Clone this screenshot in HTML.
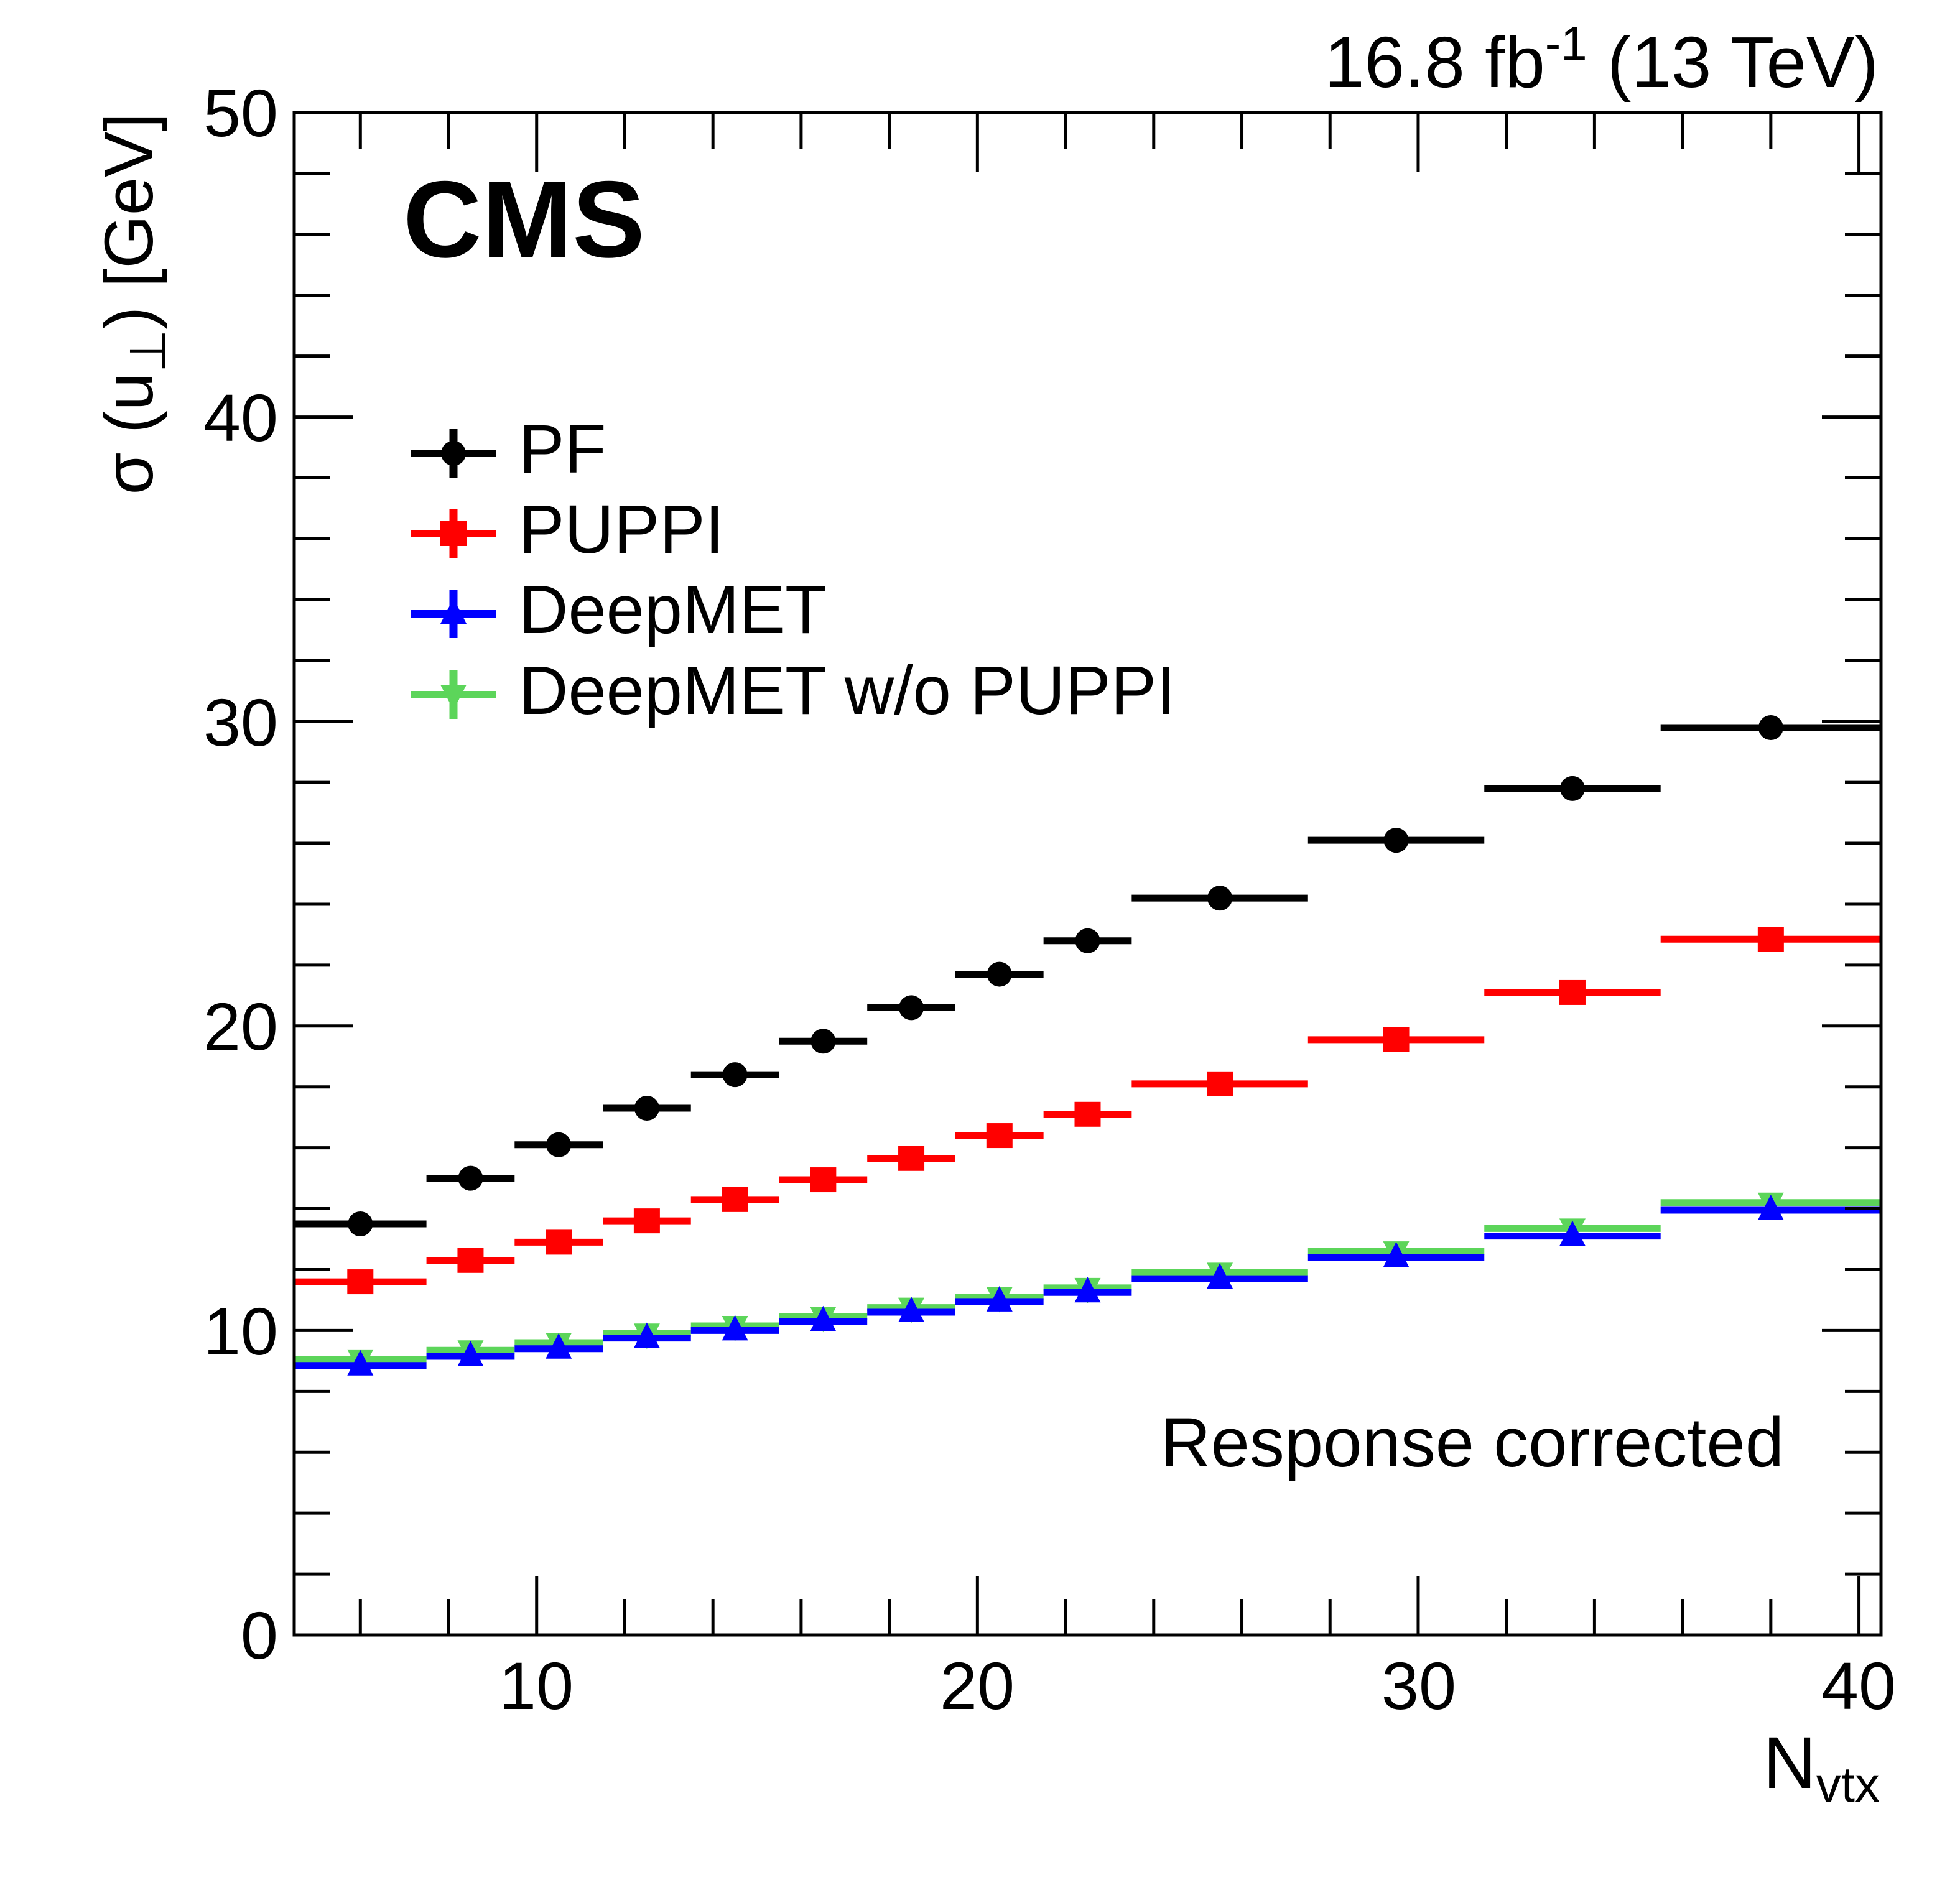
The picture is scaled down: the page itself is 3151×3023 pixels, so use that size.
<!DOCTYPE html>
<html><head><meta charset="utf-8"><style>
html,body{margin:0;padding:0;background:#fff;}
svg{display:block;}
text{font-family:"Liberation Sans",sans-serif;}
</style></head><body>
<svg width="3151" height="3023" viewBox="0 0 3151 3023" xmlns="http://www.w3.org/2000/svg">
<rect width="3151" height="3023" fill="#fff"/>
<g id="plot"></g>
<rect x="473" y="181" width="2551" height="2448" fill="none" stroke="#000" stroke-width="5"/>
<g id="ticks" stroke="#000" stroke-width="5"></g>
<g font-size="108" fill="#000">
<text x="862" y="2748" text-anchor="middle">10</text>
<text x="1571" y="2748" text-anchor="middle">20</text>
<text x="2281" y="2748" text-anchor="middle">30</text>
<text x="2988" y="2748" text-anchor="middle">40</text>
<text x="447" y="2667" text-anchor="end">0</text>
<text x="447" y="2178" text-anchor="end">10</text>
<text x="447" y="1688" text-anchor="end">20</text>
<text x="447" y="1199" text-anchor="end">30</text>
<text x="447" y="709" text-anchor="end">40</text>
<text x="447" y="219" text-anchor="end">50</text>
</g>
<text x="3022" y="2875" font-size="118" text-anchor="end">N<tspan font-size="80" dy="22">vtx</tspan></text>
<text transform="translate(245,181) rotate(-90)" font-size="110" text-anchor="end">σ (u<tspan font-size="80" dy="20">⊥</tspan><tspan dy="-20">) [GeV]</tspan></text>
<text x="3020" y="140" font-size="116" text-anchor="end">16.8 fb<tspan font-size="76" dy="-44">-1</tspan><tspan dy="44"> (13 TeV)</tspan></text>
<text x="648" y="413" font-size="175" font-weight="bold">CMS</text>
<text x="2868" y="2358" font-size="112" text-anchor="end">Response corrected</text>
<g font-size="110" fill="#000">
<text x="834" y="760">PF</text>
<text x="834" y="889">PUPPI</text>
<text x="834" y="1018">DeepMET</text>
<text x="834" y="1148">DeepMET w/o PUPPI</text>
</g>
<g id="legend"></g>
<script>
(function(){
var NS="http://www.w3.org/2000/svg";
function X(v){return 473+(v-4.5)*2551/36;}
function Y(v){return 2629-v*2448/50;}
function el(p,t,a){var e=document.createElementNS(NS,t);for(var k in a)e.setAttribute(k,a[k]);p.appendChild(e);return e;}
var tk=document.getElementById('ticks');
for(var v=6;v<=40;v+=2){var x=X(v);var L=(v%10==0)?95:58;
 el(tk,'line',{x1:x,y1:2629,x2:x,y2:2629-L});el(tk,'line',{x1:x,y1:181,x2:x,y2:181+L});}
for(var v=2;v<=48;v+=2){var y=Y(v);var L=(v%10==0)?95:58;
 el(tk,'line',{x1:473,y1:y,x2:473+L,y2:y});el(tk,'line',{x1:3024,y1:y,x2:3024-L,y2:y});}
var edges=[4.5,7.5,9.5,11.5,13.5,15.5,17.5,19.5,21.5,23.5,27.5,31.5,35.5,40.5];
var S=[
 {c:"#000",m:"c",v:[13.5,15.0,16.1,17.3,18.4,19.5,20.6,21.7,22.8,24.2,26.1,27.8,29.8]},
 {c:"#ff0000",m:"s",v:[11.6,12.3,12.9,13.6,14.3,14.95,15.65,16.4,17.1,18.1,19.55,21.1,22.85]},
 {c:"#5cd55a",m:"d",v:[9.05,9.35,9.6,9.9,10.15,10.45,10.75,11.1,11.4,11.9,12.6,13.35,14.2]},
 {c:"#0000ff",m:"u",v:[8.85,9.15,9.4,9.75,10.0,10.3,10.6,10.95,11.25,11.7,12.4,13.1,13.95]}
];
function marker(g,m,cx,cy,c){
 if(m=="c")el(g,'circle',{cx:cx,cy:cy,r:20,fill:c});
 else if(m=="s")el(g,'rect',{x:cx-21,y:cy-20,width:42,height:40,fill:c});
 else if(m=="u")el(g,'polygon',{points:(cx)+","+(cy-25)+" "+(cx-21)+","+(cy+16)+" "+(cx+21)+","+(cy+16),fill:c});
 else el(g,'polygon',{points:(cx)+","+(cy+25)+" "+(cx-21)+","+(cy-16)+" "+(cx+21)+","+(cy-16),fill:c});
}
var pg=document.getElementById('plot');
S.forEach(function(s){
 for(var i=0;i<13;i++){var x1=X(edges[i]),x2=X(edges[i+1]),y=Y(s.v[i]),cx=X((edges[i]+edges[i+1])/2);
  if(i==0)cx=X(6);if(i==12)cx=X(38);
  el(pg,'line',{x1:x1,y1:y,x2:x2,y2:y,stroke:s.c,"stroke-width":11});
  marker(pg,s.m,cx,y,s.c);}
});
var lg=document.getElementById('legend');
var ly=[729,858,987,1117];var order=[0,1,3,2];
order.forEach(function(si,k){var s=S[si],y=ly[k];
 el(lg,'line',{x1:660,y1:y,x2:798,y2:y,stroke:s.c,"stroke-width":12});
 el(lg,'line',{x1:729,y1:y-39,x2:729,y2:y+39,stroke:s.c,"stroke-width":13});
 marker(lg,s.m,729,y,s.c);});
})();
</script>
</svg>
</body></html>
